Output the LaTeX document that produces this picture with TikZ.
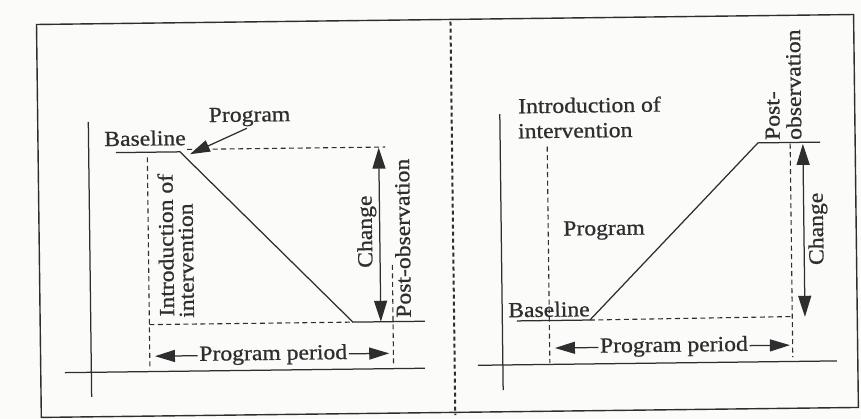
\documentclass[tikz,border=0pt]{standalone}
\usepackage{fontspec}
\setmainfont{Liberation Serif}[FakeStretch=1.1,FakeBold=0.8]
\usetikzlibrary{arrows.meta}
\definecolor{ink}{HTML}{2E2E2E}
\definecolor{paper}{HTML}{FBFBFA}
\tikzset{
  ln/.style={draw=ink, line width=1.25pt},
  frameline/.style={draw=ink, line width=1.4pt},
  dsh/.style={draw=ink, line width=1.1pt, dash pattern=on 5pt off 3.5pt},
  cdash/.style={draw=ink, line width=2pt, dash pattern=on 4pt off 3pt},
  lbl/.style={font=\fontsize{21.5}{24}\selectfont, text=ink, inner sep=0pt, transform shape},
  vlbl/.style={lbl, rotate=90, anchor=base west},
  tipone/.style={draw=ink, line width=1.25pt, -{Triangle[length=20pt,width=12pt]}},
  tiptwo/.style={draw=ink, line width=1.25pt, {Triangle[length=21pt,width=13pt]}-{Triangle[length=21pt,width=13pt]}},
}
\begin{document}
\begin{tikzpicture}[x=1pt,y=-1pt]
\fill[paper] (0,0) rectangle (861,419);
\useasboundingbox (0,0) rectangle (861,419);
\begin{scope}[rotate around={0.7:(430,210)}]
% frame and centre divider
\coordinate (FA) at (38.8,19.7);
\coordinate (FB) at (856,412.7);
\draw[frameline] (FA) rectangle (FB);
\coordinate (CT) at (452.8,22);
\coordinate (CB) at (452.8,415.5);
\draw[cdash] (CT) -- (CB);

% ---------------- left diagram ----------------
\coordinate (LyT) at (89.4,117.7);
\coordinate (LyB) at (89.4,392.7);
\coordinate (LxL) at (63,368.2);
\coordinate (LxR) at (423,368.2);
\draw[ln] (LyT) -- (LyB);
\draw[ln] (LxL) -- (LxR);
\coordinate (LbA) at (116.7,148.8);
\coordinate (LbB) at (180.7,148.8);
\coordinate (LdE) at (351.6,321.2);
\coordinate (LpE) at (423.6,321.2);
\draw[ln] (LbA) -- (LbB) -- (LdE) -- (LpE);
\coordinate (LtA) at (188,146.5);
\coordinate (LtB) at (386,146.5);
\draw[dsh] (LtA) -- (LtB);
\coordinate (LiT) at (148,154);
\coordinate (LiB) at (148,364);
\draw[dsh] (LiT) -- (LiB);
\coordinate (LhA) at (148,321.2);
\draw[dsh] (LhA) -- (LdE);
\coordinate (LoT) at (391.7,264.5);
\coordinate (LoB) at (391.7,366);
\draw[dsh] (LoT) -- (LoB);
\coordinate (LcT) at (379.5,147);
\coordinate (LcB) at (379.5,321.2);
\draw[tiptwo] (LcT) -- (LcB);

\node[lbl, anchor=base] (Lprog) at (250.7,119.4) {Program};
\coordinate (LpFrom) at (248,126);
\coordinate (LpTo) at (190.7,151.3);
\draw[tipone] (LpFrom) -- (LpTo);
\node[lbl, anchor=base] (Lbase) at (145.9,142.1) {Baseline};
\node[vlbl] (Lintro) at (172.9,313.4) {Introduction of};
\node[vlbl] (Linter) at (192.7,315) {intervention};
\node[vlbl] (Lchange) at (371.7,267.2) {Change};
\node[vlbl] (Lpost) at (409.6,317.6) {Post-observation};
\node[lbl, anchor=base, inner xsep=1.5pt] (Lpp) at (271.5,358) {Program period};
\coordinate (LppL) at (153.2,351);
\coordinate (LppR) at (387.5,351);
\draw[tipone] (Lpp.west) -- (Lpp.west -| LppL);
\draw[tipone] (Lpp.east) -- (Lpp.east -| LppR);

% ---------------- right diagram ----------------
\coordinate (RyT) at (501,115);
\coordinate (RyB) at (501,391);
\coordinate (RxL) at (476,365.9);
\coordinate (RxR) at (835,365.9);
\draw[ln] (RyT) -- (RyB);
\draw[ln] (RxL) -- (RxR);
\coordinate (RbA) at (515.6,322);
\coordinate (RbB) at (588.6,322);
\coordinate (RdE) at (758.8,146.9);
\coordinate (RtE) at (820.9,146.9);
\draw[ln] (RbA) -- (RbB) -- (RdE) -- (RtE);
\coordinate (RhE) at (791,321);
\draw[dsh] (RbB) -- (RhE);
\coordinate (RiT) at (548,148);
\coordinate (RiB) at (548,364.5);
\draw[dsh] (RiT) -- (RiB);
\coordinate (RoT) at (791,148);
\coordinate (RoB) at (791,361.5);
\draw[dsh] (RoT) -- (RoB);
\coordinate (RcT) at (803.7,148.5);
\coordinate (RcB) at (803.7,321.4);
\draw[tiptwo] (RcT) -- (RcB);

\node[lbl, anchor=base west] (Rintro) at (519.3,114.4) {Introduction of};
\node[lbl, anchor=base west] (Rinter) at (518.9,139.4) {intervention};
\node[vlbl] (Rpost) at (780.6,144.3) {Post-};
\node[vlbl] (Robs) at (802.2,144.5) {observation};
\node[vlbl] (Rchange) at (822.8,269.9) {Change};
\node[lbl, anchor=base] (Rprog) at (603.8,237.2) {Program};
\node[lbl, anchor=base] (Rbase) at (547.75,318.2) {Baseline};
\node[lbl, anchor=base, inner xsep=1.5pt] (Rpp) at (672.3,354.7) {Program period};
\coordinate (RppL) at (553.3,349);
\coordinate (RppR) at (788.3,349);
\draw[tipone] (Rpp.west) -- (Rpp.west -| RppL);
\draw[tipone] (Rpp.east) -- (Rpp.east -| RppR);
\end{scope}
\end{tikzpicture}
\end{document}
